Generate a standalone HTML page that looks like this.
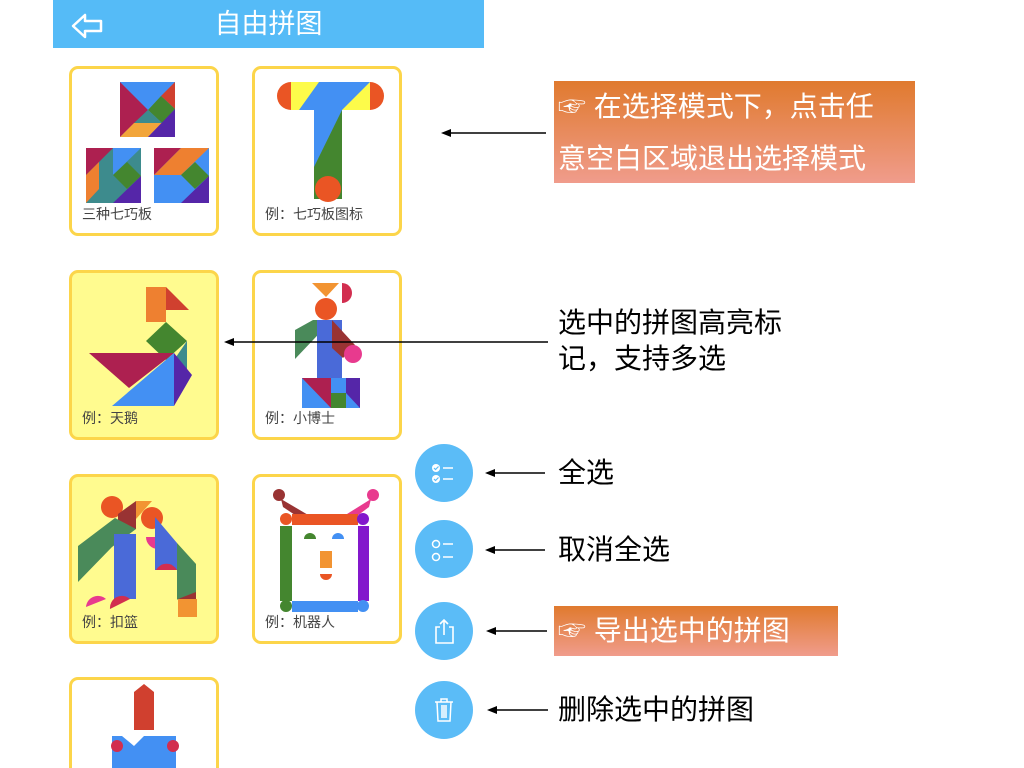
<!DOCTYPE html>
<html style="overflow:hidden;height:768px"><head><meta charset="utf-8"><style>
html,body{overflow:hidden}
body{margin:0;width:1024px;height:768px;background:#fff;position:relative;overflow:hidden;font-family:"Liberation Sans","Noto Sans CJK SC",sans-serif}
.hdr{position:absolute;left:53px;top:0;width:431px;height:48px;background:#55bbf7}
.hdr span{position:absolute;left:0;width:431px;top:6px;text-align:center;color:#fff;font-size:27px;line-height:36px}
.card{position:absolute;width:144px;height:164px;border:3px solid #fcd54a;border-radius:9px;background:#fff;box-sizing:content-box;overflow:hidden}
.card.y{background:#fffb8f}
.card .l{position:absolute;left:10px;bottom:9px;font-size:14px;color:#444}
.card svg{position:absolute;left:0;top:0}
.btn{position:absolute;left:415px;width:58px;height:58px;border-radius:50%;background:#5bbcf7}
.btn svg{position:absolute;left:0;top:0}
.t{position:absolute;font-size:28px;color:#000;line-height:36px}
.ob{position:absolute;background:linear-gradient(#e07a2e,#f09c8c);color:#fff;font-size:28px}
</style></head><body>
<div class="hdr"><svg width="40" height="40" style="position:absolute;left:16px;top:6px"><path d="M4 20 L16 9 L16 15 L32 15 L32 25 L16 25 L16 31 Z" fill="none" stroke="#fff" stroke-width="2.5" stroke-linejoin="round"/></svg><span>自由拼图</span></div>

<div class="card" style="left:69px;top:66px"><svg width="144" height="164">
<rect x="48" y="13" width="55" height="55" fill="#4390f3"/><polygon points="48,13 76,41 48,68" fill="#ad2050"/><polygon points="103,13 103,40 89,27" fill="#d0402f"/><polygon points="89,27 103,40 90,54 76,41" fill="#44862f"/><polygon points="76,41 90,54 62,54" fill="#3d8b8d"/><polygon points="62,54 90,54 76,68 48,68" fill="#f2a53a"/><polygon points="103,40 103,68 76,68" fill="#5526a8"/>
<rect x="14" y="79" width="55" height="55" fill="#3d8b8d"/><polygon points="14,79 41,79 14,106" fill="#ad2050"/><polygon points="14,106 27,93 27,120 14,134" fill="#ee8030"/><polygon points="41,79 69,79 41,106" fill="#4390f3"/><polygon points="55,93 69,107 55,120 41,106" fill="#44862f"/><polygon points="69,107 69,134 41,134" fill="#5526a8"/>
<rect x="82" y="79" width="55" height="55" fill="#4390f3"/><polygon points="82,79 109,79 82,106" fill="#ad2050"/><polygon points="109,79 137,79 109,106 82,106" fill="#ee8030"/><polygon points="123,93 137,107 123,120 109,106" fill="#44862f"/><polygon points="137,107 137,134 109,134" fill="#5526a8"/></svg><div class="l">三种七巧板</div></div>

<div class="card" style="left:252px;top:66px"><svg width="144" height="164"><circle cx="36" cy="27" r="14" fill="#ea5524"/><circle cx="115" cy="27" r="14" fill="#ea5524"/><rect x="36" y="13" width="79" height="28" fill="#fdfb4a"/><polygon points="64,13 115,13 87,41 44,41" fill="#4390f3"/><polygon points="59,41 87,41 87,130 59,130" fill="#44862f"/><polygon points="59,41 87,41 59,98" fill="#4390f3"/><circle cx="73" cy="120" r="13" fill="#ea5524"/></svg><div class="l">例：七巧板图标</div></div>

<div class="card y" style="left:69px;top:270px"><svg width="144" height="164"><polygon points="74,14 94,14 94,49 74,49" fill="#ee8030"/><polygon points="94,14 117,37 94,37" fill="#d0402f"/><polygon points="94,49 115,68 94,87 74,68" fill="#44862f"/><polygon points="115,68 115,102 102,87" fill="#3d8b8d"/><polygon points="17,80 102,80 57,115" fill="#ad2050"/><polygon points="102,80 102,133 40,133" fill="#4390f3"/><polygon points="102,80 120,102 102,133" fill="#5526a8"/></svg><div class="l">例：天鹅</div></div>

<div class="card" style="left:252px;top:270px"><svg width="144" height="164"><polygon points="57,10 84,10 71,24" fill="#f29432"/><path d="M87 10 A10 10 0 0 1 87 30 Z" fill="#d22e4f"/><circle cx="71" cy="36" r="11" fill="#ea5524"/><polygon points="40,57 58,47 77,47 40,86" fill="#4a8a5a"/><rect x="62" y="47" width="25" height="73" fill="#4a6ad8"/><polygon points="77,47 100,72 88,85 77,75" fill="#993333"/><circle cx="98" cy="81" r="9" fill="#e83a8e"/><rect x="47" y="105" width="58" height="30" fill="#4390f3"/><polygon points="47,105 76,105 76,135" fill="#ad2050"/><rect x="76" y="120" width="15" height="15" fill="#44862f"/><polygon points="91,105 105,105 105,135 91,120" fill="#5526a8"/></svg><div class="l">例：小博士</div></div>

<div class="card y" style="left:69px;top:474px"><svg width="144" height="164"><circle cx="40" cy="30" r="11" fill="#ea5524"/><polygon points="46,37 64,24 64,52 46,52" fill="#993333"/><polygon points="64,24 80,24 64,42" fill="#f29432"/><polygon points="6,69 43,41 64,52 40,70 6,105" fill="#4a8a5a"/><rect x="42" y="57" width="22" height="65" fill="#4a6ad8"/><circle cx="80" cy="41" r="11" fill="#ea5524"/><path d="M74 60 A12 12 0 0 0 98 60 Z" fill="#e83a8e"/><polygon points="83,40 105,66 105,93 83,93" fill="#4a6ad8"/><path d="M84 93 A12 12 0 0 1 105 93 Z" fill="#d22e4f"/><polygon points="105,66 124,87 124,140 105,122" fill="#4a8a5a"/><polygon points="124,115 124,140 106,122" fill="#993333"/><rect x="106" y="122" width="19" height="18" fill="#f29432"/><path d="M14 130 A12 12 0 0 1 34 122 Z" fill="#e83a8e"/><path d="M38 132 A12 12 0 0 1 58 122 Z" fill="#d22e4f"/></svg><div class="l">例：扣篮</div></div>

<div class="card" style="left:252px;top:474px"><svg width="144" height="164"><circle cx="24" cy="18" r="6" fill="#993333"/><polygon points="26,22 60,42 46,42 28,30" fill="#993333"/><circle cx="118" cy="18" r="6" fill="#e83a8e"/><polygon points="116,22 84,42 98,42 114,30" fill="#e83a8e"/><circle cx="31" cy="42" r="6" fill="#ea5524"/><rect x="37" y="37" width="66" height="11" fill="#ea5524"/><circle cx="108" cy="42" r="6" fill="#8318cc"/><rect x="25" y="49" width="12" height="75" fill="#44862f"/><rect x="103" y="49" width="11" height="75" fill="#8318cc"/><circle cx="31" cy="129" r="6" fill="#44862f"/><rect x="37" y="124" width="66" height="11" fill="#4390f3"/><circle cx="108" cy="129" r="6" fill="#4390f3"/><path d="M49 62 A6 6 0 0 1 61 62Z" fill="#44862f"/><path d="M77 62 A6 6 0 0 1 89 62Z" fill="#4390f3"/><rect x="65" y="74" width="12" height="17" fill="#f29432"/><path d="M65 97 A6 6 0 0 0 77 97Z" fill="#ea5524"/></svg><div class="l">例：机器人</div></div>

<div class="card" style="left:69px;top:677px;height:100px;border-bottom:none;border-radius:9px 9px 0 0"><svg width="144" height="100"><polygon points="62,12 72,4 82,12 82,50 62,50" fill="#d0402f"/><rect x="40" y="56" width="64" height="40" fill="#4390f3"/><polygon points="50,56 62,66 72,56" fill="#fff"/><circle cx="45" cy="66" r="6" fill="#d22e4f"/><circle cx="101" cy="66" r="6" fill="#d22e4f"/></svg></div>

<div class="btn" style="top:444px"><svg width="58" height="58"><circle cx="21" cy="24" r="4" fill="#fff"/><circle cx="21" cy="35" r="4" fill="#fff"/><path d="M19 24l1.5 1.5 3-3M19 35l1.5 1.5 3-3" stroke="#5bbcf7" stroke-width="1.2" fill="none"/><path d="M28 24h10M28 35h10" stroke="#fff" stroke-width="1.6"/></svg></div>
<div class="btn" style="top:520px"><svg width="58" height="58"><circle cx="21" cy="24" r="3.5" fill="none" stroke="#fff" stroke-width="1.5"/><circle cx="21" cy="37" r="3.5" fill="none" stroke="#fff" stroke-width="1.5"/><path d="M28 24h10M28 37h10" stroke="#fff" stroke-width="1.6"/></svg></div>
<div class="btn" style="top:602px"><svg width="58" height="58"><path d="M25 25h-4v16h17v-16h-4M29 33v-15M25 22l4-4 4 4" fill="none" stroke="#fff" stroke-width="1.6"/></svg></div>
<div class="btn" style="top:681px"><svg width="58" height="58"><path d="M20 21h18M26 21v-3h6v3M22 21l1 19h12l1-19M27 24v13M29 24v13M31 24v13" fill="none" stroke="#fff" stroke-width="1.5"/></svg></div>

<svg width="1024" height="768" style="position:absolute;left:0;top:0">
<g stroke="#000" stroke-width="1.5"><line x1="546" y1="133" x2="448" y2="133"/><line x1="548" y1="342" x2="232" y2="342"/><line x1="545" y1="473" x2="492" y2="473"/><line x1="545" y1="550" x2="492" y2="550"/><line x1="547" y1="631" x2="493" y2="631"/><line x1="548" y1="710" x2="494" y2="710"/></g>
<g fill="#000"><polygon points="441,133 451,129 451,137"/><polygon points="224,342 234,338 234,346"/><polygon points="485,473 495,469 495,477"/><polygon points="485,550 495,546 495,554"/><polygon points="486,631 496,627 496,635"/><polygon points="487,710 497,706 497,714"/></g></svg>

<div class="ob" style="left:554px;top:81px;width:361px;height:102px"><div style="position:absolute;left:4px;top:6px;line-height:40px;white-space:nowrap">☞ 在选择模式下，点击任</div><div style="position:absolute;left:4px;top:58px;line-height:40px;white-space:nowrap">意空白区域退出选择模式</div></div>
<div class="t" style="left:558px;top:305px">选中的拼图高亮标</div>
<div class="t" style="left:558px;top:341px">记，支持多选</div>
<div class="t" style="left:558px;top:455px">全选</div>
<div class="t" style="left:558px;top:532px">取消全选</div>
<div class="ob" style="left:554px;top:606px;width:284px;height:50px"><div style="position:absolute;left:4px;top:6px;line-height:38px;white-space:nowrap">☞ 导出选中的拼图</div></div>
<div class="t" style="left:558px;top:692px">删除选中的拼图</div>
</body></html>
